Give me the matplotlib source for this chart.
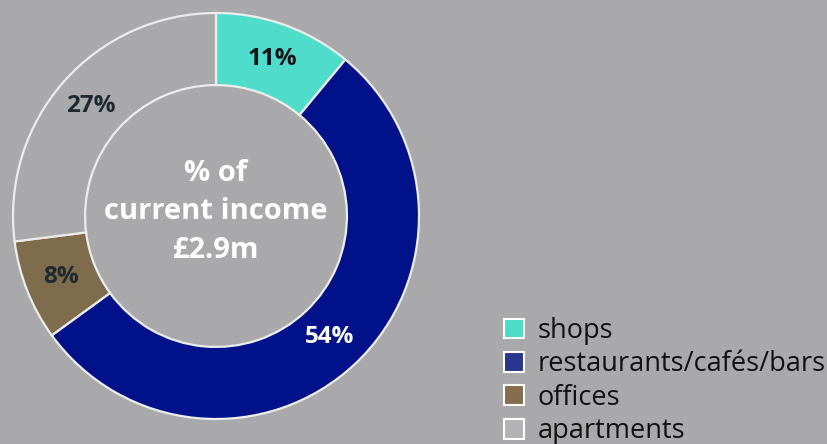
import matplotlib
matplotlib.use("Agg")
import matplotlib.pyplot as plt
from matplotlib.patches import Patch

# income split by use
categories = ['shops', 'restaurants/cafés/bars', 'offices', 'apartments']
shares = [11, 54, 8, 27]
colors = ['#50dccb', '#00118a', '#7f6c4c', '#a9a9ab']
legend_colors = ['#4ddcc4', '#2a3590', '#846e4f', '#b3b3b5']
label_colors = ['#101418', 'white', '#1e2a30', '#1e2a30']
center_text = '% of\ncurrent income\n£2.9m'

bg = '#a9a9ab'
plt.rcParams['font.family'] = ['Open Sans', 'DejaVu Sans']

fig = plt.figure(figsize=(8.27, 4.44), dpi=100, facecolor=bg)
ax = fig.add_axes([13 / 827, 25 / 444, 406 / 827, 406 / 444])
ax.set_facecolor(bg)

wedges, texts = ax.pie(shares, colors=colors, startangle=90, counterclock=False,
                       radius=1, labels=[f'{s}%' for s in shares], labeldistance=0.82,
                       wedgeprops=dict(width=0.355, edgecolor='#ececec', linewidth=1.6),
                       textprops=dict(fontsize=17.5, fontweight='bold', ha='center', va='center'))
for t, c in zip(texts, label_colors):
    t.set_color(c)

ax.text(0, 0.02, center_text, ha='center', va='center', color='white',
        fontsize=21, fontweight='bold', linespacing=1.43)
ax.set_xlim(-1, 1)
ax.set_ylim(-1, 1)
ax.set_aspect('equal')
ax.axis('off')

handles = [Patch(facecolor=c, edgecolor='white', linewidth=1.5) for c in legend_colors]
leg = fig.legend(handles, categories, loc='lower left', bbox_to_anchor=(493 / 827, -12 / 444),
                 frameon=False, fontsize=19.5, handlelength=0.74, handleheight=0.74,
                 handletextpad=0.5, labelspacing=0.2, borderaxespad=0)
for txt in leg.get_texts():
    txt.set_color('#111111')

fig.savefig('out.png', dpi=100, facecolor=bg)
